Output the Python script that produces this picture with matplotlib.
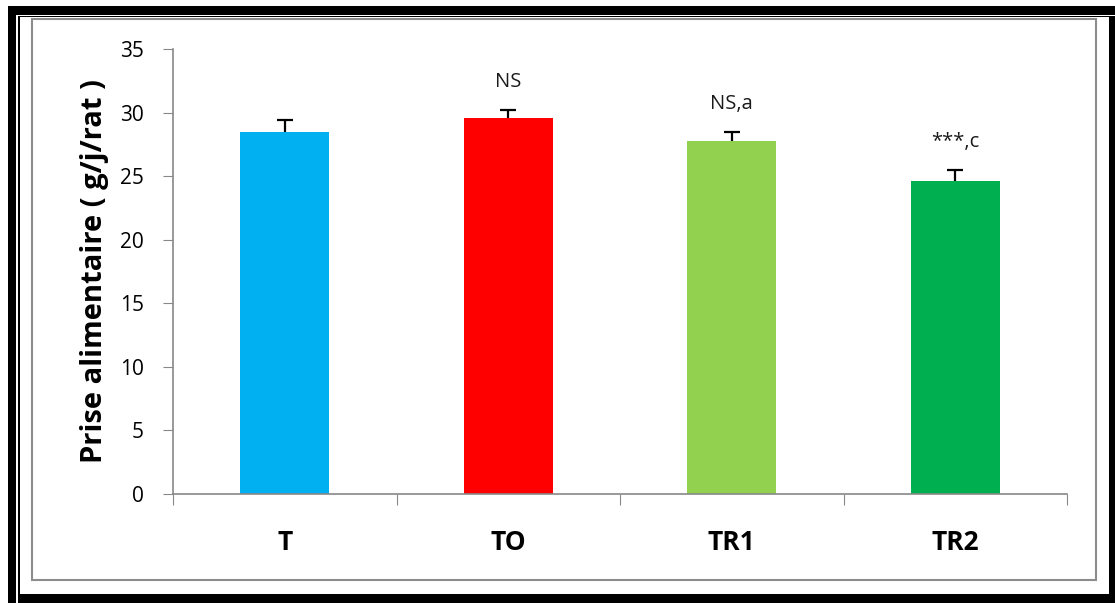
import matplotlib.pyplot as plt
from matplotlib.patches import Rectangle

# Données : prise alimentaire moyenne par groupe
groupes = ["T", "TO", "TR1", "TR2"]
prise = [28.5, 29.6, 27.8, 24.6]
erreur = [0.95, 0.6, 0.7, 0.85]
signif = ["", "NS", "NS,a", "***,c"]
couleurs = ["#00B0F0", "#FF0000", "#92D050", "#00B050"]

W, H = 1115, 603
fig = plt.figure(figsize=(W / 100, H / 100), dpi=100)
fig.patch.set_facecolor("white")


def cadre(x0, y0, x1, y1, **kw):
    # rectangle en pixels (origine en haut à gauche)
    fig.patches.append(Rectangle((x0 / W, 1 - y1 / H), (x1 - x0) / W, (y1 - y0) / H,
                                 transform=fig.transFigure, figure=fig, **kw))


# Bordure noire épaisse + filet fin
cadre(8, 6, 1115, 15, color="black", lw=0)
cadre(8, 6, 16, 603, color="black", lw=0)
cadre(18, 594, 1115, 603, color="black", lw=0)
cadre(1109, 16, 1115, 603, color="black", lw=0)
cadre(18, 16, 1109, 17, color="black", lw=0)
cadre(18, 16, 20, 594, color="black", lw=0)
# Cadre gris de la zone du graphique
cadre(32, 19, 1096, 580, fill=False, edgecolor="#8c8c8c", lw=1.5)

ax = fig.add_axes([173 / W, 1 - 494 / H, (1067 - 173) / W, (494 - 49) / H])
x = list(range(len(groupes)))
ax.bar(x, prise, width=0.4, color=couleurs, zorder=2)

# Barres d'erreur vers le haut uniquement
hauts = [v + e for v, e in zip(prise, erreur)]
ax.vlines(x, prise, hauts, color="black", lw=1.6, zorder=3)
ax.plot(x, hauts, ls="none", marker="_", ms=11, mew=1.6, color="black", zorder=3)

for xi, h, s in zip(x, hauts, signif):
    if s:
        ax.text(xi, h + 2.2, s, ha="center", va="center", fontsize=14.5,
                family="Open Sans", color="#1a1a1a")

ax.set_xlim(-0.5, 3.5)
ax.set_ylim(0, 35)
ax.set_yticks(range(0, 36, 5))
ax.tick_params(axis="y", direction="out", length=7, color="#888888",
               labelsize=15, pad=14)
for lab in ax.get_yticklabels():
    lab.set_family("Open Sans")

# Graduations de l'axe des x entre les catégories
ax.set_xticks([-0.5, 0.5, 1.5, 2.5, 3.5])
ax.set_xticklabels([])
ax.tick_params(axis="x", direction="out", length=8, color="#888888")
ax.set_xticks(x, minor=True)
ax.set_xticklabels(groupes, minor=True, fontsize=19, fontweight="bold",
                   family="Open Sans")
ax.tick_params(axis="x", which="minor", length=0, pad=25)

for side in ["top", "right"]:
    ax.spines[side].set_visible(False)
for side in ["left", "bottom"]:
    ax.spines[side].set_color("#888888")
    ax.spines[side].set_linewidth(1.2)

ax.set_ylabel("Prise alimentaire ( g/j/rat )", fontsize=21, fontweight="bold",
              family="Open Sans", labelpad=8)

fig.savefig("out.png", dpi=100)
